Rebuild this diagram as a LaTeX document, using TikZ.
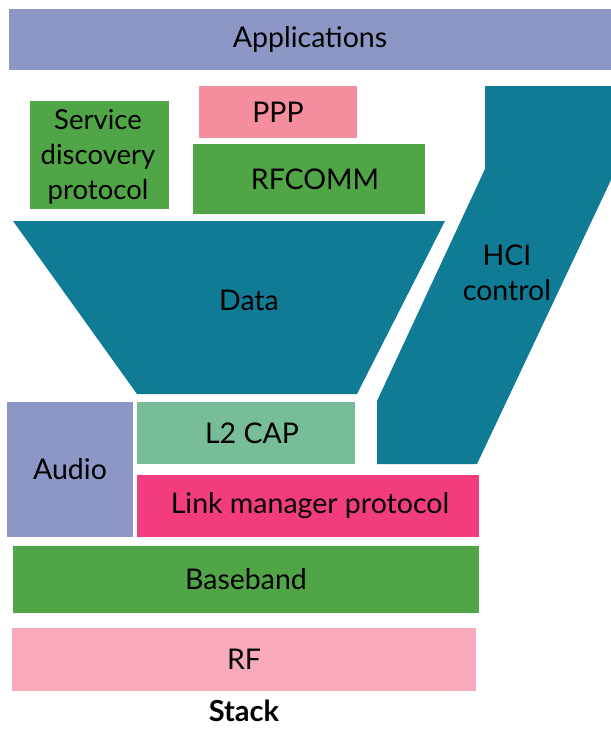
\documentclass[tikz,border=0pt]{standalone}
\usepackage{fontspec}
\setmainfont{Lato}
\definecolor{lav}{HTML}{8C97C6}
\definecolor{grn}{HTML}{50A646}
\definecolor{ppp}{HTML}{F48E9C}
\definecolor{teal}{HTML}{0F7B94}
\definecolor{ltg}{HTML}{76BD98}
\definecolor{lmp}{HTML}{F33C7D}
\definecolor{rfp}{HTML}{F6AABB}
\begin{document}
\begin{tikzpicture}[x=1pt,y=-1pt,
  layer/.style={draw=none,inner sep=0pt,outer sep=0pt,align=center,
     font=\fontsize{28.5}{34}\selectfont},
  lbl/.style={inner sep=0pt,align=center,font=\fontsize{28.5}{35}\selectfont}]
\useasboundingbox (0,0) rectangle (611,729);
\fill[white] (0,0) rectangle (611,729);
% rectangles
\node[layer,fill=lav,minimum width=602,minimum height=61] (app) at (310,39.5) {Applications};
\node[layer,fill=grn,minimum width=139,minimum height=108] (sdp) at (99.5,155) {};
\node[lbl,font=\fontsize{27.5}{35}\selectfont] (sdptext) at (98,157) {Service\\discovery\\protocol};
\node[layer,fill=ppp,minimum width=158,minimum height=52] (ppp) at (278,112) {PPP};
\node[layer,fill=grn,minimum width=232,minimum height=70] (rfcomm) at (309,179) {\hspace{12pt}RFCOMM};
\node[layer,fill=lav,minimum width=126,minimum height=135] (audio) at (70,469.5) {Audio};
\node[layer,fill=ltg,minimum width=218,minimum height=62] (l2cap) at (246,433) {\hspace{12pt}L2 CAP};
\node[layer,fill=lmp,minimum width=342,minimum height=62] (lmpn) at (308,506) {\hspace{4pt}Link manager protocol};
\node[layer,fill=grn,minimum width=466,minimum height=67] (base) at (246,579.5) {Baseband};
\node[layer,fill=rfp,minimum width=464,minimum height=63] (rf) at (244,659.5) {RF};
% data funnel
\fill[teal] (13,221) -- (445,221) -- (357,394) -- (137,394) -- cycle;
\node[lbl] (data) at (249,300) {Data};
% HCI control
\fill[teal] (485,86) -- (611,86) -- (611,180) -- (477,464) -- (377,464)
  -- (377,401) -- (485,169) -- cycle;
\node[lbl] (hci) at (507,273) {HCI\\control};
\node[inner sep=0pt,font=\fontsize{29}{33}\selectfont\bfseries] (stack) at (244,711) {Stack};
\end{tikzpicture}
\end{document}
